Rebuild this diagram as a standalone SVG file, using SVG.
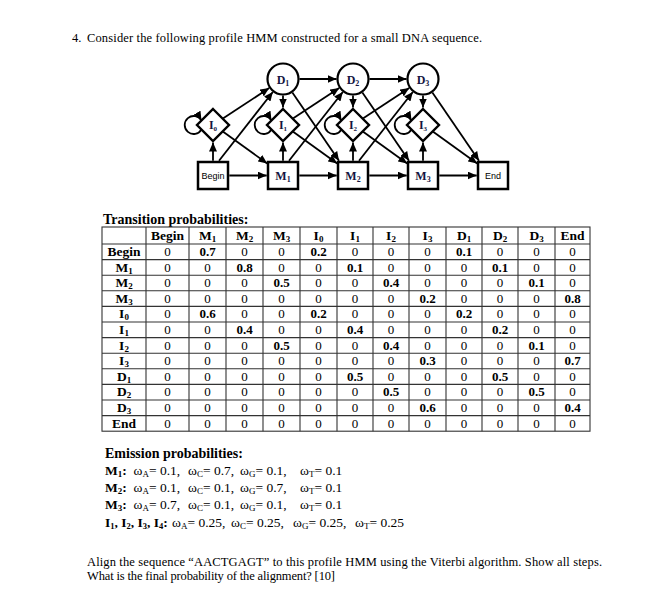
<svg xmlns="http://www.w3.org/2000/svg" width="647" height="593" viewBox="0 0 647 593">
<style>
.s{font-family:"Liberation Serif","Times New Roman",serif;fill:#000}
.b{font-weight:bold}
.lab{font-family:"Liberation Serif",serif;font-weight:bold;font-size:12px;fill:#15153f;text-anchor:middle}
.sans{font-family:"Liberation Sans",Arial,sans-serif;font-size:9px;fill:#000;text-anchor:middle}
.e{stroke:#000;stroke-width:1.8;fill:none;marker-end:url(#ah)}
.box{fill:#fff;stroke:#000;stroke-width:2.5}
.dia{fill:#fff;stroke:#000;stroke-width:2.4}
.cir{fill:#fff;stroke:#000;stroke-width:2.2}
.tv{font-family:"Liberation Serif",serif;font-size:13px;text-anchor:middle;fill:#000}
.th{font-family:"Liberation Serif",serif;font-size:13.5px;font-weight:bold;text-anchor:middle;fill:#000}
.grid{stroke:#333;stroke-width:1.1;fill:none}
.em{font-family:"Liberation Serif",serif;font-size:13.5px;fill:#000}
</style>
<defs>
<marker id="ah" markerUnits="userSpaceOnUse" markerWidth="9" markerHeight="8" refX="9" refY="4" orient="auto"><path d="M0,0 L9,4 L0,8 z" fill="#000"/></marker>
</defs>
<rect width="647" height="593" fill="#fff"/>

<text class="s" x="72" y="42" font-size="12.5">4.</text>
<text class="s" x="87" y="42" font-size="12.5" textLength="395" lengthAdjust="spacing">Consider the following profile HMM constructed for a small DNA sequence.</text>

<g id="connectors">
<path class="e" d="M229.3,175.5 H266.7"/>
<path class="e" d="M299.3,175.5 H336.7"/>
<path class="e" d="M369.3,175.5 H406.7"/>
<path class="e" d="M439.3,175.5 H476.7"/>
<path class="e" d="M299.5,79 H336.5"/>
<path class="e" d="M369.5,79 H406.5"/>
<path class="e" d="M213,160.7 V142.5"/>
<path class="e" d="M283,160.7 V142.5"/>
<path class="e" d="M353,160.7 V142.5"/>
<path class="e" d="M423,160.7 V142.5"/>
<path class="e" d="M283,95.5 V107.5"/>
<path class="e" d="M353,95.5 V107.5"/>
<path class="e" d="M423,95.5 V107.5"/>
<path class="e" d="M223.26,118.26 L269.2,88.06"/>
<path class="e" d="M223.16,131.84 L267.2,163.5"/>
<path class="e" d="M219,160.7 L272.83,91.99"/>
<path class="e" d="M293.26,118.26 L339.2,88.06"/>
<path class="e" d="M293.16,131.84 L337.2,163.5"/>
<path class="e" d="M289,160.7 L342.83,91.99"/>
<path class="e" d="M292.36,92.58 L339,160.7"/>
<path class="e" d="M363.26,118.26 L409.2,88.06"/>
<path class="e" d="M363.16,131.84 L407.2,163.5"/>
<path class="e" d="M359,160.7 L412.83,91.99"/>
<path class="e" d="M362.36,92.58 L409,160.7"/>
<path class="e" d="M433.16,131.84 L477.2,163.5"/>
<path class="e" d="M432.36,92.58 L479,160.7"/>
<path class="e" d="M201.5,129.5 A9,9 0 1 1 201.5,120.5"/>
<path class="e" d="M271.5,129.5 A9,9 0 1 1 271.5,120.5"/>
<path class="e" d="M341.5,129.5 A9,9 0 1 1 341.5,120.5"/>
<path class="e" d="M411.5,129.5 A9,9 0 1 1 411.5,120.5"/>
</g>

<g id="begin"><rect class="box" x="198" y="162" width="30" height="27"/><text class="sans" x="213" y="179">Begin</text></g>
<g id="m1"><rect class="box" x="268" y="162" width="30" height="27"/><text class="lab" x="283" y="180">M<tspan font-size="8" dy="2">1</tspan></text></g>
<g id="m2"><rect class="box" x="338" y="162" width="30" height="27"/><text class="lab" x="353" y="180">M<tspan font-size="8" dy="2">2</tspan></text></g>
<g id="m3"><rect class="box" x="408" y="162" width="30" height="27"/><text class="lab" x="423" y="180">M<tspan font-size="8" dy="2">3</tspan></text></g>
<g id="end"><rect class="box" x="478" y="162" width="30" height="27"/><text class="sans" x="493" y="179">End</text></g>
<g id="i0"><polygon class="dia" points="213,109 229,125 213,141 197,125"/><text class="lab" x="213" y="129" font-size="11">I<tspan font-size="7" dy="2">0</tspan></text></g>
<g id="i1"><polygon class="dia" points="283,109 299,125 283,141 267,125"/><text class="lab" x="283" y="129" font-size="11">I<tspan font-size="7" dy="2">1</tspan></text></g>
<g id="i2"><polygon class="dia" points="353,109 369,125 353,141 337,125"/><text class="lab" x="353" y="129" font-size="11">I<tspan font-size="7" dy="2">2</tspan></text></g>
<g id="i3"><polygon class="dia" points="423,109 439,125 423,141 407,125"/><text class="lab" x="423" y="129" font-size="11">I<tspan font-size="7" dy="2">3</tspan></text></g>
<g id="d1"><circle class="cir" cx="283" cy="79" r="15.5"/><text class="lab" x="283" y="83.5">D<tspan font-size="8" dy="2">1</tspan></text></g>
<g id="d2"><circle class="cir" cx="353" cy="79" r="15.5"/><text class="lab" x="353" y="83.5">D<tspan font-size="8" dy="2">2</tspan></text></g>
<g id="d3"><circle class="cir" cx="423" cy="79" r="15.5"/><text class="lab" x="423" y="83.5">D<tspan font-size="8" dy="2">3</tspan></text></g>

<g id="transition-table">
<text class="s b" x="103" y="224" font-size="14">Transition probabilities:</text>
<rect class="grid" x="102" y="227" width="488" height="204.2" stroke-width="1.5"/>
<path class="grid" d="M102,244 H590 M102,259.6 H590 M102,275.2 H590 M102,290.8 H590 M102,306.4 H590 M102,322 H590 M102,337.6 H590 M102,353.2 H590 M102,368.8 H590 M102,384.4 H590 M102,400 H590 M102,415.6 H590"/>
<path class="grid" d="M146,227 V431.2 M189,227 V431.2 M226,227 V431.2 M263,227 V431.2 M300,227 V431.2 M337,227 V431.2 M373,227 V431.2 M409,227 V431.2 M446,227 V431.2 M482,227 V431.2 M518,227 V431.2 M555,227 V431.2"/>
<text class="th" x="167.5" y="240">Begin</text>
<text class="th" x="207.5" y="240">M<tspan font-size="9" dy="2">1</tspan></text>
<text class="th" x="244.5" y="240">M<tspan font-size="9" dy="2">2</tspan></text>
<text class="th" x="281.5" y="240">M<tspan font-size="9" dy="2">3</tspan></text>
<text class="th" x="318.5" y="240">I<tspan font-size="9" dy="2">0</tspan></text>
<text class="th" x="355" y="240">I<tspan font-size="9" dy="2">1</tspan></text>
<text class="th" x="391" y="240">I<tspan font-size="9" dy="2">2</tspan></text>
<text class="th" x="427.5" y="240">I<tspan font-size="9" dy="2">3</tspan></text>
<text class="th" x="464" y="240">D<tspan font-size="9" dy="2">1</tspan></text>
<text class="th" x="500" y="240">D<tspan font-size="9" dy="2">2</tspan></text>
<text class="th" x="536.5" y="240">D<tspan font-size="9" dy="2">3</tspan></text>
<text class="th" x="572.5" y="240">End</text>
<text class="th" x="124" y="256">Begin</text>
<text class="th" x="124" y="271.6">M<tspan font-size="9" dy="2">1</tspan></text>
<text class="th" x="124" y="287.2">M<tspan font-size="9" dy="2">2</tspan></text>
<text class="th" x="124" y="302.8">M<tspan font-size="9" dy="2">3</tspan></text>
<text class="th" x="124" y="318.4">I<tspan font-size="9" dy="2">0</tspan></text>
<text class="th" x="124" y="334">I<tspan font-size="9" dy="2">1</tspan></text>
<text class="th" x="124" y="349.6">I<tspan font-size="9" dy="2">2</tspan></text>
<text class="th" x="124" y="365.2">I<tspan font-size="9" dy="2">3</tspan></text>
<text class="th" x="124" y="380.8">D<tspan font-size="9" dy="2">1</tspan></text>
<text class="th" x="124" y="396.4">D<tspan font-size="9" dy="2">2</tspan></text>
<text class="th" x="124" y="412">D<tspan font-size="9" dy="2">3</tspan></text>
<text class="th" x="124" y="427.6">End</text>
<g transform="translate(0,256)">
<text class="tv" x="167.5">0</text><text class="tv b" x="207.5">0.7</text><text class="tv" x="244.5">0</text><text class="tv" x="281.5">0</text><text class="tv b" x="318.5">0.2</text><text class="tv" x="355">0</text><text class="tv" x="391">0</text><text class="tv" x="427.5">0</text><text class="tv b" x="464">0.1</text><text class="tv" x="500">0</text><text class="tv" x="536.5">0</text><text class="tv" x="572.5">0</text>
</g>
<g transform="translate(0,271.6)">
<text class="tv" x="167.5">0</text><text class="tv" x="207.5">0</text><text class="tv b" x="244.5">0.8</text><text class="tv" x="281.5">0</text><text class="tv" x="318.5">0</text><text class="tv b" x="355">0.1</text><text class="tv" x="391">0</text><text class="tv" x="427.5">0</text><text class="tv" x="464">0</text><text class="tv b" x="500">0.1</text><text class="tv" x="536.5">0</text><text class="tv" x="572.5">0</text>
</g>
<g transform="translate(0,287.2)">
<text class="tv" x="167.5">0</text><text class="tv" x="207.5">0</text><text class="tv" x="244.5">0</text><text class="tv b" x="281.5">0.5</text><text class="tv" x="318.5">0</text><text class="tv" x="355">0</text><text class="tv b" x="391">0.4</text><text class="tv" x="427.5">0</text><text class="tv" x="464">0</text><text class="tv" x="500">0</text><text class="tv b" x="536.5">0.1</text><text class="tv" x="572.5">0</text>
</g>
<g transform="translate(0,302.8)">
<text class="tv" x="167.5">0</text><text class="tv" x="207.5">0</text><text class="tv" x="244.5">0</text><text class="tv" x="281.5">0</text><text class="tv" x="318.5">0</text><text class="tv" x="355">0</text><text class="tv" x="391">0</text><text class="tv b" x="427.5">0.2</text><text class="tv" x="464">0</text><text class="tv" x="500">0</text><text class="tv" x="536.5">0</text><text class="tv b" x="572.5">0.8</text>
</g>
<g transform="translate(0,318.4)">
<text class="tv" x="167.5">0</text><text class="tv b" x="207.5">0.6</text><text class="tv" x="244.5">0</text><text class="tv" x="281.5">0</text><text class="tv b" x="318.5">0.2</text><text class="tv" x="355">0</text><text class="tv" x="391">0</text><text class="tv" x="427.5">0</text><text class="tv b" x="464">0.2</text><text class="tv" x="500">0</text><text class="tv" x="536.5">0</text><text class="tv" x="572.5">0</text>
</g>
<g transform="translate(0,334)">
<text class="tv" x="167.5">0</text><text class="tv" x="207.5">0</text><text class="tv b" x="244.5">0.4</text><text class="tv" x="281.5">0</text><text class="tv" x="318.5">0</text><text class="tv b" x="355">0.4</text><text class="tv" x="391">0</text><text class="tv" x="427.5">0</text><text class="tv" x="464">0</text><text class="tv b" x="500">0.2</text><text class="tv" x="536.5">0</text><text class="tv" x="572.5">0</text>
</g>
<g transform="translate(0,349.6)">
<text class="tv" x="167.5">0</text><text class="tv" x="207.5">0</text><text class="tv" x="244.5">0</text><text class="tv b" x="281.5">0.5</text><text class="tv" x="318.5">0</text><text class="tv" x="355">0</text><text class="tv b" x="391">0.4</text><text class="tv" x="427.5">0</text><text class="tv" x="464">0</text><text class="tv" x="500">0</text><text class="tv b" x="536.5">0.1</text><text class="tv" x="572.5">0</text>
</g>
<g transform="translate(0,365.2)">
<text class="tv" x="167.5">0</text><text class="tv" x="207.5">0</text><text class="tv" x="244.5">0</text><text class="tv" x="281.5">0</text><text class="tv" x="318.5">0</text><text class="tv" x="355">0</text><text class="tv" x="391">0</text><text class="tv b" x="427.5">0.3</text><text class="tv" x="464">0</text><text class="tv" x="500">0</text><text class="tv" x="536.5">0</text><text class="tv b" x="572.5">0.7</text>
</g>
<g transform="translate(0,380.8)">
<text class="tv" x="167.5">0</text><text class="tv" x="207.5">0</text><text class="tv" x="244.5">0</text><text class="tv" x="281.5">0</text><text class="tv" x="318.5">0</text><text class="tv b" x="355">0.5</text><text class="tv" x="391">0</text><text class="tv" x="427.5">0</text><text class="tv" x="464">0</text><text class="tv b" x="500">0.5</text><text class="tv" x="536.5">0</text><text class="tv" x="572.5">0</text>
</g>
<g transform="translate(0,396.4)">
<text class="tv" x="167.5">0</text><text class="tv" x="207.5">0</text><text class="tv" x="244.5">0</text><text class="tv" x="281.5">0</text><text class="tv" x="318.5">0</text><text class="tv" x="355">0</text><text class="tv b" x="391">0.5</text><text class="tv" x="427.5">0</text><text class="tv" x="464">0</text><text class="tv" x="500">0</text><text class="tv b" x="536.5">0.5</text><text class="tv" x="572.5">0</text>
</g>
<g transform="translate(0,412)">
<text class="tv" x="167.5">0</text><text class="tv" x="207.5">0</text><text class="tv" x="244.5">0</text><text class="tv" x="281.5">0</text><text class="tv" x="318.5">0</text><text class="tv" x="355">0</text><text class="tv" x="391">0</text><text class="tv b" x="427.5">0.6</text><text class="tv" x="464">0</text><text class="tv" x="500">0</text><text class="tv" x="536.5">0</text><text class="tv b" x="572.5">0.4</text>
</g>
<g transform="translate(0,427.6)">
<text class="tv" x="167.5">0</text><text class="tv" x="207.5">0</text><text class="tv" x="244.5">0</text><text class="tv" x="281.5">0</text><text class="tv" x="318.5">0</text><text class="tv" x="355">0</text><text class="tv" x="391">0</text><text class="tv" x="427.5">0</text><text class="tv" x="464">0</text><text class="tv" x="500">0</text><text class="tv" x="536.5">0</text><text class="tv" x="572.5">0</text>
</g>
</g>

<g id="emission">
<text class="s b" x="105" y="458" font-size="14">Emission probabilities:</text>
<text class="em b" x="105" y="475">M<tspan font-size="9" dy="2">1</tspan><tspan dy="-2">:</tspan></text>
<text class="em" x="133.5" y="475">ω<tspan font-size="9" dy="2">A</tspan><tspan dy="-2">= 0.1,</tspan></text>
<text class="em" x="188" y="475">ω<tspan font-size="9" dy="2">C</tspan><tspan dy="-2">= 0.7,</tspan></text>
<text class="em" x="240" y="475">ω<tspan font-size="9" dy="2">G</tspan><tspan dy="-2">= 0.1,</tspan></text>
<text class="em" x="300" y="475">ω<tspan font-size="9" dy="2">T</tspan><tspan dy="-2">= 0.1</tspan></text>
<text class="em b" x="105" y="492">M<tspan font-size="9" dy="2">2</tspan><tspan dy="-2">:</tspan></text>
<text class="em" x="133.5" y="492">ω<tspan font-size="9" dy="2">A</tspan><tspan dy="-2">= 0.1,</tspan></text>
<text class="em" x="188" y="492">ω<tspan font-size="9" dy="2">C</tspan><tspan dy="-2">= 0.1,</tspan></text>
<text class="em" x="240" y="492">ω<tspan font-size="9" dy="2">G</tspan><tspan dy="-2">= 0.7,</tspan></text>
<text class="em" x="300" y="492">ω<tspan font-size="9" dy="2">T</tspan><tspan dy="-2">= 0.1</tspan></text>
<text class="em b" x="105" y="509">M<tspan font-size="9" dy="2">3</tspan><tspan dy="-2">:</tspan></text>
<text class="em" x="133.5" y="509">ω<tspan font-size="9" dy="2">A</tspan><tspan dy="-2">= 0.7,</tspan></text>
<text class="em" x="188" y="509">ω<tspan font-size="9" dy="2">C</tspan><tspan dy="-2">= 0.1,</tspan></text>
<text class="em" x="240" y="509">ω<tspan font-size="9" dy="2">G</tspan><tspan dy="-2">= 0.1,</tspan></text>
<text class="em" x="300" y="509">ω<tspan font-size="9" dy="2">T</tspan><tspan dy="-2">= 0.1</tspan></text>
<text class="em b" x="105" y="527" font-size="12.5">I<tspan font-size="8.5" dy="2">1</tspan><tspan dy="-2">, I</tspan><tspan font-size="8.5" dy="2">2</tspan><tspan dy="-2">, I</tspan><tspan font-size="8.5" dy="2">3</tspan><tspan dy="-2">, I</tspan><tspan font-size="8.5" dy="2">4</tspan><tspan dy="-2">:</tspan></text>
<text class="em" x="172" y="527">ω<tspan font-size="9" dy="2">A</tspan><tspan dy="-2">= 0.25,</tspan></text>
<text class="em" x="231" y="527">ω<tspan font-size="9" dy="2">C</tspan><tspan dy="-2">= 0.25,</tspan></text>
<text class="em" x="293" y="527">ω<tspan font-size="9" dy="2">G</tspan><tspan dy="-2">= 0.25,</tspan></text>
<text class="em" x="355" y="527">ω<tspan font-size="9" dy="2">T</tspan><tspan dy="-2">= 0.25</tspan></text>
</g>

<text class="s" x="87" y="566" font-size="12.5" textLength="515" lengthAdjust="spacing">Align the sequence “AACTGAGT” to this profile HMM using the Viterbi algorithm. Show all steps.</text>
<text class="s" x="87" y="580" font-size="12.5" textLength="248" lengthAdjust="spacing">What is the final probability of the alignment? [10]</text>
</svg>
